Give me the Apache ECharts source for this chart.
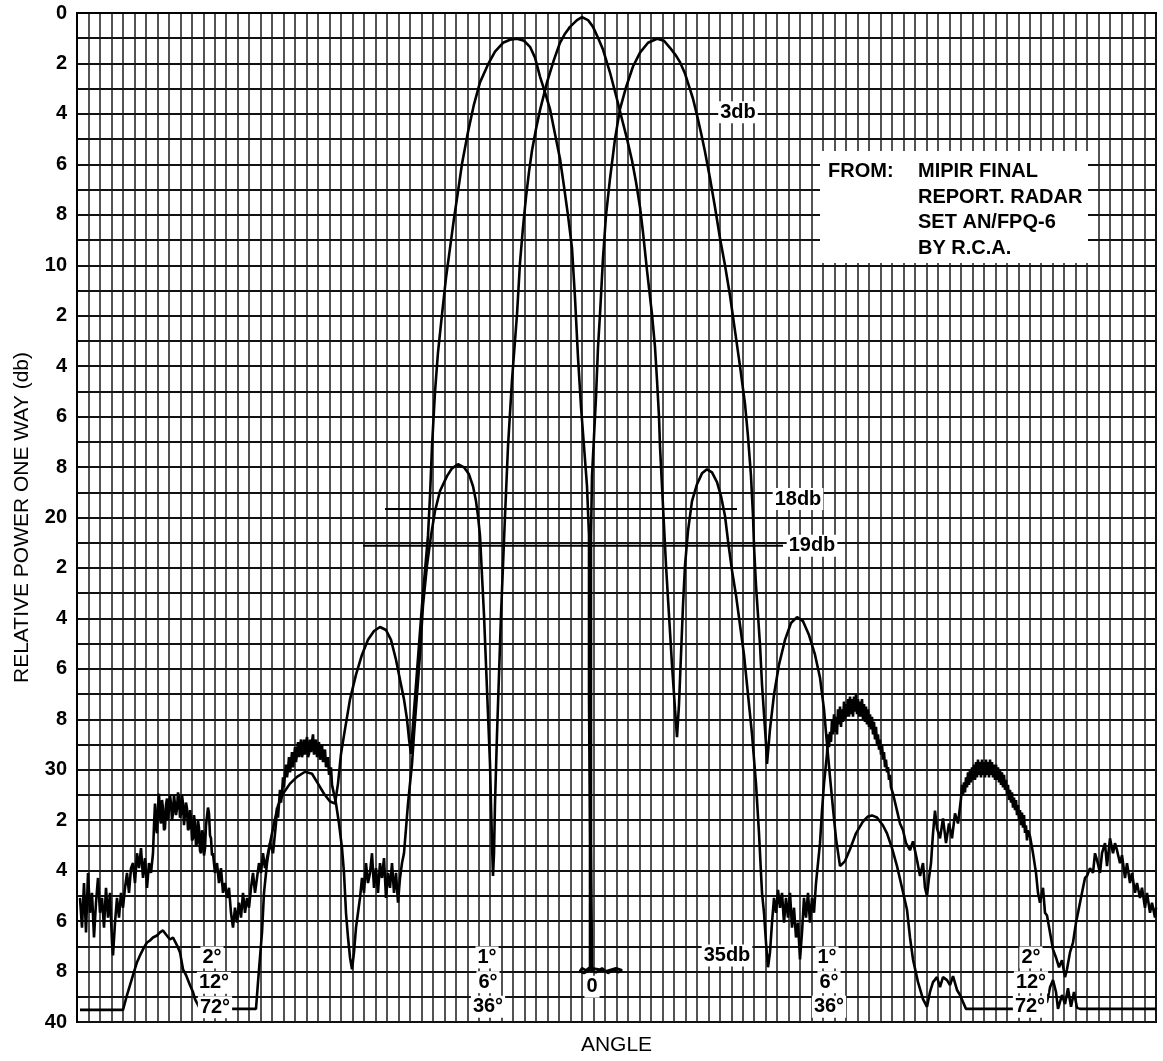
<!DOCTYPE html>
<html><head><meta charset="utf-8">
<script src="https://cdn.jsdelivr.net/npm/echarts/dist/echarts.min.js"></script>
<style>html,body{margin:0;padding:0;background:#fff}#c{width:1163px;height:1061px}</style>
</head><body><div id="c"></div>
<script>
// Angle axis: arbitrary angle units (no numeric labels on the original), 94 grid columns
const X_MAX = 1079, X_COLUMNS = 94;
const Y_MAX = 40; // relative power, db (inverted)

// Narrow-scale pattern (main lobe + first sidelobes + noisy far lobes)
const narrowLeftNoise = [[3,35.08],[5,36.26],[7,34.49],[9,36.45],[11,34.09],[13,35.67],[15,34.88],[17,36.65],[19,35.27],[21,34.29],[23,35.67],[25,35.08],[27,36.26],[29,34.68],[31,35.86],[33,34.88],[35,36.85],[36,37.36],[38,36.06],[40,35.08],[42,35.86],[44,34.88],[46,35.47],[48,34.68],[50,34.09],[52,34.88],[54,33.90],[56,33.70],[58,34.49],[60,33.31],[62,33.90],[64,33.11],[66,34.29],[68,33.50],[70,34.68],[72,33.70],[74,34.09],[76,33.31],[77,32.2],[78,31.34],[79,32.3],[80,32.52],[81,31.5],[82,30.95],[83,31.9],[84,32.13],[85,31.2],[86,31.54],[87,32.4],[88,32.32],[89,31.4],[90,31.14],[91,32.0],[92,31.93],[93,31.0],[94,31.34],[95,32.0],[96,31.73],[97,31.0],[98,30.95],[99,31.8],[100,31.54],[101,30.9],[102,31.14],[103,31.9],[104,31.73],[105,31.0],[106,31.34],[107,32.2],[108,32.13],[109,31.3],[110,31.54],[111,32.4],[112,32.32],[113,31.6],[114,31.93],[115,32.8],[116,32.72],[117,31.8],[118,32.13],[119,33.0],[120,32.91],[121,32.0],[122,32.32],[123,33.2],[124,33.31],[125,32.4],[126,32.52],[127,33.4],[128,33.11],[129,32.2],[130,32.13],[131,31.5],[132,31.73],[133,32.6],[134,32.72],[135,33.4],[136,33.31],[138,34.09],[140,33.70],[142,34.49],[144,33.90],[146,34.88],[148,34.49],[150,35.08],[152,34.68],[154,35.67],[156,36.26],[158,35.47],[160,36.06],[162,35.27],[164,35.86],[166,34.88],[168,35.67],[170,35.08],[172,35.47],[174,34.68],[176,34.09],[178,34.88],[180,34.29],[182,33.70],[184,34.09],[186,33.31],[188,33.90],[190,33.50],[193,32.91],[196,33.31],[199,32.13],[200,31.5],[201,31.9],[202,31.34],[203,30.8],[204,31.3],[205,30.95],[206,30.3],[207,30.7],[208,30.16],[209,29.8],[210,30.3],[211,29.97],[212,29.5],[213,30.1],[214,29.77],[215,29.3],[216,29.9],[217,29.57],[218,29.1],[219,29.7],[220,29.37],[221,28.9],[222,29.5],[223,29.18],[224,28.8],[225,29.5],[226,29.30],[227,28.8],[228,29.4],[229,28.98],[230,28.7],[231,29.5],[232,29.37],[233,28.8],[234,29.3],[235,28.90],[236,28.6],[237,29.4],[238,29.18],[239,28.8],[240,29.5],[241,29.06],[242,28.9],[243,29.6],[244,29.45],[245,29.0],[246,29.7],[247,29.37],[248,29.2],[249,29.9],[250,29.77],[251,29.5],[252,30.2],[253,30.08],[254,29.9],[255,30.6],[256,30.55],[259,31.34],[262,32.13],[265,33.11],[267,34.09],[269,35.67],[271,36.65],[273,37.44],[275,37.91],[277,37.24],[279,36.26],[281,35.67],[283,35.08],[285,34.29],[287,34.88],[289,33.70],[291,34.49],[293,34.09],[295,33.31],[297,34.68],[299,33.90],[301,34.88],[303,33.70],[305,34.29],[307,33.50],[309,35.08],[311,34.09],[313,34.68],[315,33.70],[317,34.88],[319,34.09],[321,35.27],[323,34.29],[325,33.70],[327,33.31],[329,32.32],[331,31.34],[333,30.55],[335,29.77]];

const narrowLobes = [[337,28.59],[340,27.02],[343,25.44],[346,23.48],[350,21.90],[354,20.72],[358,19.74],[363,18.95],[370,18.36],[375,18.05],[381,17.89],[387,18.01],[392,18.29],[396,18.76],[399,19.35],[401,19.94],[403,20.72],[405,22.30],[407,23.87],[409,25.84],[411,27.80],[413,29.77],[414,31.34],[415,32.91],[416,34.21],[417,33.31],[418,31.34],[420,28.59],[422,26.23],[424,23.87],[426,21.90],[428,19.94],[431,17.18],[435,14.55],[440,11.95],[443,9.9],[446,8.5],[449,7.3],[452,6.3],[455,5.45],[459,4.6],[463,3.85],[470,2.75],[477,1.85],[483,1.18],[488,0.82],[493,0.55],[500,0.28],[505,0.16],[511,0.28],[516,0.55],[521,0.98],[526,1.45],[533,2.36],[540,3.42],[545,4.21],[550,4.99],[555,5.85],[559,6.7],[563,7.7],[566,8.7],[570,10.2],[575,11.95],[578,13.25],[580,14.55],[582,16.00],[583,17.18],[585,18.76],[587,20.33],[589,21.90],[592,23.87],[595,25.84],[598,27.60],[600,28.71],[602,27.41],[604,25.44],[606,23.48],[608,21.90],[611,20.53],[615,19.35],[620,18.68],[625,18.25],[630,18.09],[635,18.21],[640,18.60],[644,19.15],[648,19.94],[651,20.92],[655,22.10],[659,23.08],[663,24.26],[667,25.44],[671,27.02],[675,28.59],[679,30.55],[682,32.52],[685,34.88]];

const narrowRightNoise = [[687,35.67],[689,36.85],[691,37.83],[693,37.24],[695,36.06],[697,35.08],[699,35.67],[701,34.76],[703,35.47],[705,34.88],[707,36.06],[709,35.08],[711,35.86],[713,34.88],[715,36.26],[717,35.47],[719,36.65],[721,36.06],[723,37.52],[725,36.45],[727,35.08],[729,35.86],[731,34.88],[733,36.06],[735,35.08],[737,35.67],[739,34.49],[741,33.70],[743,32.91],[745,31.62],[747,30.55],[750,29.37],[751,28.6],[752,29.1],[753,28.5],[754,28.9],[755,28.0],[756,28.6],[757,27.8],[758,28.5],[759,27.9],[760,28.6],[761,27.6],[762,28.2],[763,27.5],[764,28.3],[765,27.6],[766,28.1],[767,27.3],[768,28.0],[769,27.4],[770,27.9],[771,27.2],[772,27.9],[773,27.1],[774,27.8],[775,27.2],[776,27.9],[777,27.1],[778,27.7],[779,27.0],[780,27.8],[781,27.2],[782,27.9],[783,27.3],[784,27.9],[785,27.2],[786,28.0],[787,27.4],[788,28.1],[789,27.5],[790,28.2],[791,27.6],[792,28.3],[793,27.8],[794,28.4],[795,27.9],[796,28.6],[797,28.1],[798,28.8],[799,28.3],[800,29.0],[801,28.6],[802,29.2],[803,28.8],[804,29.4],[805,29.0],[806,29.6],[807,29.3],[808,29.9],[809,29.6],[810,30.1],[811,29.9],[812,30.4],[813,30.2],[814,30.7],[816,30.95],[820,31.62],[823,32.13],[826,32.40],[829,32.91],[833,33.19],[836,32.84],[840,33.58],[843,34.21],[846,33.70],[848,34.68],[850,35.00],[852,34.29],[854,33.70],[856,32.52],[858,31.62],[860,32.32],[863,32.72],[866,31.93],[869,32.91],[872,32.13],[875,32.72],[878,31.73],[881,32.13],[884,31.14],[885,30.6],[886,31.0],[887,30.5],[888,30.9],[889,30.3],[890,30.7],[891,30.1],[892,30.6],[893,30.0],[894,30.5],[895,29.9],[896,30.4],[897,29.8],[898,30.4],[899,29.7],[900,30.3],[901,29.6],[902,30.2],[903,29.7],[904,30.3],[905,29.6],[906,30.2],[907,29.7],[908,30.3],[909,29.6],[910,30.2],[911,29.7],[912,30.3],[913,29.6],[914,30.2],[915,29.7],[916,30.3],[917,29.8],[918,30.4],[919,29.8],[920,30.4],[921,29.9],[922,30.5],[923,30.0],[924,30.6],[925,30.1],[926,30.7],[927,30.2],[928,30.8],[929,30.4],[930,31.0],[931,30.6],[932,31.2],[933,30.8],[934,31.3],[935,30.9],[936,31.5],[937,31.1],[938,31.6],[939,31.2],[940,31.8],[941,31.4],[942,32.0],[943,31.6],[944,32.2],[945,31.7],[946,32.3],[947,31.8],[948,32.5],[949,32.2],[950,32.8],[951,32.4],[953,32.64],[956,33.31],[959,34.09],[961,34.88],[963,35.27],[966,34.68],[968,35.67],[970,35.78],[973,36.45],[976,37.12],[979,37.44],[982,37.83],[985,37.55],[988,38.22],[990,37.91],[993,37.24],[996,36.85],[999,36.06],[1001,35.67],[1003,35.27],[1006,34.68],[1008,34.29],[1010,34.21],[1013,33.90],[1016,34.09],[1018,33.31],[1020,33.58],[1023,34.09],[1025,33.31],[1028,32.91],[1030,33.82],[1033,32.72],[1036,33.31],[1038,32.91],[1040,33.19],[1043,33.70],[1045,33.39],[1048,34.29],[1050,33.70],[1053,34.49],[1055,34.09],[1058,34.88],[1060,34.49],[1063,35.08],[1065,34.68],[1068,35.47],[1070,34.88],[1073,35.67],[1075,35.27],[1078,35.86],[1079,35.47]];

// Wide-scale pattern (squinted pair of lobes, boresight null, outer lobes, floor)
const wideLeft = [[3,39.52],[46,39.52],[50,38.93],[53,38.54],[56,38.14],[60,37.63],[63,37.36],[67,37.04],[70,36.85],[73,36.77],[76,36.65],[80,36.57],[83,36.45],[86,36.37],[89,36.53],[93,36.73],[96,36.65],[100,36.96],[103,37.24],[106,37.91],[109,38.14],[113,38.54],[116,38.81],[118,39.09],[123,39.48],[179,39.48],[181,38.42],[183,37.44],[185,36.45],[187,34.88],[190,33.70],[193,32.91],[197,32.13],[201,31.42],[206,30.95],[213,30.55],[220,30.28],[228,30.08],[235,30.16],[241,30.55],[247,30.95],[253,31.26],[258,31.34],[261,30.55],[264,29.37],[268,28.39],[273,27.21],[279,26.23],[285,25.44],[291,24.85],[297,24.50],[303,24.34],[309,24.46],[314,24.85],[319,25.64],[323,26.43],[327,27.21],[330,28.00],[332,28.78],[334,29.37]];

const wideCenter = [[336,28.20],[339,26.62],[342,25.05],[345,23.48],[348,22.10],[351,20.72],[353,19.15],[355,17.18],[358,15.02],[361,13.45],[365,11.95],[369,10.50],[373,9.32],[377,8.14],[380,7.35],[385,5.98],[391,4.72],[397,3.62],[403,2.75],[411,2.04],[418,1.53],[426,1.18],[433,1.06],[440,1.02],[447,1.10],[453,1.34],[458,1.77],[463,2.52],[468,3.15],[473,3.81],[478,4.80],[483,5.78],[487,6.88],[491,8.02],[495,9.32],[498,11.29],[501,13.65],[504,15.61],[507,17.18],[510,18.76],[512,20.72],[512,27.02],[513,32.91],[513,37.83],[509,37.95],[505,37.87],[503,37.99],[507,38.06],[513,37.91],[519,38.03],[525,37.87],[531,38.06],[537,37.91],[541,38.03],[545,37.95],[539,37.87],[529,37.99],[521,37.91],[515,37.87],[514,32.91],[514,27.02],[514,20.72],[515,18.36],[517,16.79],[519,15.22],[521,13.25],[523,11.95],[526,9.71],[529,8.02],[533,6.57],[538,4.99],[543,3.81],[549,2.95],[556,2.12],[563,1.57],[571,1.18],[580,1.02],[587,1.10],[593,1.38],[599,1.69],[603,1.95],[608,2.4],[612,2.9],[616,3.4],[620,4.05],[624,4.75],[628,5.5],[633,6.55],[638,7.7],[643,8.93],[648,10.0],[653,11.2],[658,12.6],[663,14.0],[668,15.5],[671,16.79],[674,18.36],[676,19.94],[677,21.12],[679,22.69],[681,23.87],[683,25.05],[685,26.62],[687,27.80],[689,28.98],[690,29.77]];

const wideRight = [[693,28.39],[697,27.02],[702,25.84],[708,24.85],[714,24.18],[720,23.95],[726,24.11],[732,24.66],[738,25.44],[743,26.35],[747,27.61],[750,28.98],[753,30.28],[756,31.54],[759,32.72],[763,33.82],[768,33.62],[773,33.15],[779,32.52],[786,32.05],[791,31.85],[795,31.81],[800,31.89],[806,32.21],[810,32.52],[815,33.11],[820,33.82],[825,34.68],[830,35.55],[833,36.65],[836,37.52],[841,38.42],[846,39.09],[850,39.40],[853,38.81],[856,38.42],[860,38.22],[863,38.62],[866,38.22],[870,38.34],[873,38.54],[876,38.18],[880,38.73],[883,38.93],[886,39.21],[889,39.48],[936,39.48],[970,39.21],[973,38.62],[976,38.34],[979,38.81],[981,39.48],[985,38.93],[988,39.29],[991,38.66],[994,39.40],[997,38.81],[1000,39.44],[1003,39.48],[1079,39.48]];

// Reference level lines
const line18db = [[308,19.66],[660,19.66]];
const line19db = [[286,21.12],[706,21.12]];

// Annotation labels
const annotationLabels = [
  {name:'3db', value:[661,3.93]},
  {name:'18db', value:[721,19.27]},
  {name:'19db', value:[735,21.12]},
  {name:'35db', value:[650,37.36]},
  {name:'2°', value:[135,37.44]}, {name:'12°', value:[137,38.44]}, {name:'72°', value:[138,39.42]},
  {name:'1°', value:[410,37.44]}, {name:'6°', value:[411,38.42]}, {name:'36°', value:[411,39.4]},
  {name:'0', value:[515,38.6]},
  {name:'1°', value:[750,37.44]}, {name:'6°', value:[752,38.42]}, {name:'36°', value:[752,39.4]},
  {name:'2°', value:[954,37.44]}, {name:'12°', value:[954,38.42]}, {name:'72°', value:[953,39.4]}
];
const sourceBox = [[743,5.47],[1011,9.91]];
const sourceHead = {name:'FROM:', value:[751,6.29]};
const sourceBody = {name:'MIPIR FINAL\nREPORT. RADAR\nSET AN/FPQ-6\nBY R.C.A.', value:[841,7.81]};

const chart = echarts.init(document.getElementById('c'), null, {renderer:'canvas'});
const curveStyle = {color:'#000', width:2.6};
const FONT = "'Liberation Sans', Arial, sans-serif";

chart.setOption({
  animation:false,
  backgroundColor:'#fff',
  grid:{left:77, right:7, top:13, bottom:31, show:true, borderColor:'#000', borderWidth:2, backgroundColor:'#fff'},
  xAxis:{
    type:'value', min:0, max:X_MAX, interval:X_MAX/X_COLUMNS,
    name:'ANGLE', nameLocation:'middle', nameGap:13,
    nameTextStyle:{fontFamily:FONT, fontSize:21, color:'#000', verticalAlign:'top'},
    axisLine:{show:true, lineStyle:{color:'#000', width:2}},
    axisTick:{show:false}, axisLabel:{show:false},
    splitLine:{show:true, lineStyle:{color:'#1a1a1a', width:1.5}}
  },
  yAxis:{
    type:'value', inverse:true, min:0, max:Y_MAX, interval:1,
    name:'RELATIVE POWER ONE WAY (db)', nameLocation:'middle', nameGap:44, nameRotate:90,
    nameTextStyle:{fontFamily:FONT, fontSize:21, color:'#000'},
    axisLine:{show:true, lineStyle:{color:'#000', width:2}},
    axisTick:{show:false},
    axisLabel:{margin:10, fontFamily:FONT, fontWeight:'bold', fontSize:20, color:'#000',
      formatter:v => (v % 2 ? '' : (v % 10 === 0 ? String(v) : String(v % 10)))},
    splitLine:{show:true, lineStyle:{color:'#111', width:2}}
  },
  series:[
    {type:'line', name:'narrow', data:[...narrowLeftNoise, ...narrowLobes, ...narrowRightNoise],
     symbol:'none', lineStyle:curveStyle, z:3},
    {type:'line', name:'wide', data:[...wideLeft, ...wideCenter, ...wideRight],
     symbol:'none', lineStyle:curveStyle, z:3},
    {type:'line', name:'18db', data:line18db, symbol:'none', lineStyle:{color:'#000', width:2}, z:3},
    {type:'line', name:'19db', data:line19db, symbol:'none', lineStyle:{color:'#000', width:2}, z:3},
    {type:'line', name:'source', data:[sourceBox[0]], symbol:'none', lineStyle:{width:0}, z:4,
     markArea:{silent:true, itemStyle:{color:'#fff', opacity:1, borderWidth:0},
       data:[[{coord:sourceBox[0]},{coord:sourceBox[1]}]]}},
    {type:'scatter', name:'labels', data:annotationLabels, symbolSize:0, z:6, silent:true,
     itemStyle:{opacity:1, color:'#000'},
     label:{show:true, position:'inside', formatter:'{b}', fontFamily:FONT, fontSize:20, fontWeight:'bold',
       color:'#000', backgroundColor:'#fff', padding:[0,2], lineHeight:22, opacity:1}},
    {type:'scatter', name:'sourceText', data:[sourceHead, sourceBody], symbolSize:0, z:6, silent:true,
     itemStyle:{opacity:1, color:'#000'},
     label:{show:true, position:'right', distance:0, formatter:'{b}', fontFamily:FONT, fontSize:20,
       fontWeight:'bold', color:'#000', lineHeight:25.5, align:'left', opacity:1}}
  ]
});
</script></body></html>
